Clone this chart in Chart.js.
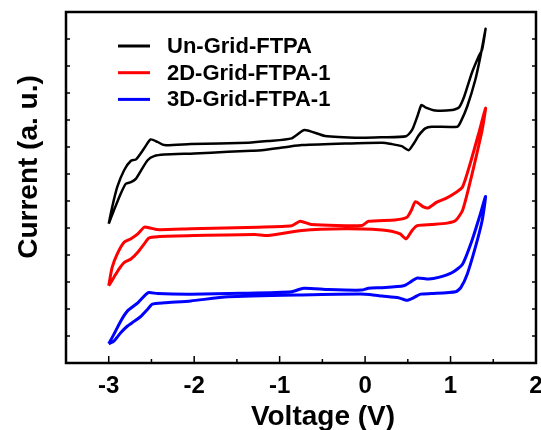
<!DOCTYPE html>
<html>
<head>
<meta charset="utf-8">
<script src="https://cdn.jsdelivr.net/npm/chart.js@4/dist/chart.umd.min.js"></script>
<style>
  body { margin: 0; background: #fff; }
</style>
</head>
<body>
<canvas id="cv" width="541" height="430"></canvas>
<script>
// each loop: forward scan (upper) then reverse scan (lower) back to -3 V
const seriesNames = ['Un-Grid-FTPA', '2D-Grid-FTPA-1', '3D-Grid-FTPA-1'];
const seriesColors = ['#000000', '#ff0000', '#0000ff'];

const unGridV = [-3.00,-2.96,-2.90,-2.82,-2.74,-2.68,-2.585,-2.51,-2.43,-2.35,-2.04,-1.37,-1.135,-0.86,-0.71,-0.47,-0.04,0.20,0.48,0.55,0.61,0.66,0.705,0.82,1.02,1.10,1.16,1.25,1.33,1.37,1.41,
  1.35,1.29,1.195,1.12,1.08,0.78,0.705,0.63,0.57,0.51,0.43,0.31,0.20,-0.235,-0.74,-0.90,-1.21,-1.33,-1.605,-2.00,-2.35,-2.47,-2.545,-2.62,-2.68,-2.74,-2.80,-2.86,-2.94,-3.00];
const unGridI = [5.16,5.77,6.52,7.14,7.49,7.54,7.95,8.28,8.19,8.07,8.11,8.16,8.22,8.32,8.63,8.41,8.34,8.36,8.40,8.63,9.12,9.56,9.47,9.35,9.37,9.47,9.87,10.75,11.36,11.61,12.38,
  11.36,10.49,9.50,8.94,8.75,8.75,8.69,8.44,8.13,7.88,8.03,8.11,8.16,8.13,8.07,8.01,7.88,7.86,7.82,7.76,7.72,7.66,7.51,7.14,6.83,6.70,6.64,6.27,5.65,5.16];

const grid2dV = [-3.00,-2.96,-2.90,-2.82,-2.74,-2.66,-2.585,-2.53,-2.43,-2.04,-1.25,-0.86,-0.76,-0.63,-0.04,0.04,0.35,0.49,0.54,0.59,0.69,0.745,0.84,0.94,1.04,1.14,1.23,1.33,1.41,
  1.37,1.29,1.215,1.14,1.06,0.96,0.78,0.61,0.55,0.48,0.41,0.31,0.20,-0.235,-0.74,-1.135,-1.29,-2.00,-2.43,-2.53,-2.585,-2.66,-2.74,-2.82,-2.88,-2.94,-3.00];
const grid2dI = [2.86,3.54,4.04,4.47,4.60,4.78,5.03,5.01,4.94,4.97,5.03,5.08,5.25,5.13,5.09,5.25,5.30,5.40,5.65,5.97,5.77,5.75,5.96,6.09,6.27,6.52,7.39,8.51,9.44,
  8.63,7.51,6.52,5.65,5.28,5.18,5.13,5.09,4.91,4.60,4.78,4.88,4.93,4.97,4.91,4.72,4.76,4.72,4.68,4.63,4.41,4.10,3.85,3.72,3.48,3.17,2.86];

const grid3dV = [-3.00,-2.94,-2.86,-2.78,-2.66,-2.585,-2.53,-2.43,-2.04,-1.45,-0.86,-0.72,-0.43,-0.04,0.04,0.20,0.45,0.55,0.61,0.745,0.86,1.02,1.14,1.25,1.35,1.41,
  1.37,1.29,1.195,1.12,1.06,0.78,0.65,0.57,0.49,0.39,0.20,0.00,-0.74,-1.605,-2.04,-2.35,-2.49,-2.545,-2.62,-2.70,-2.78,-2.86,-2.94,-3.00];
const grid3dI = [0.71,1.06,1.55,1.93,2.23,2.48,2.61,2.57,2.55,2.58,2.64,2.77,2.72,2.70,2.77,2.79,2.86,3.04,3.15,3.11,3.17,3.35,3.66,4.53,5.53,6.17,
  5.28,4.28,3.29,2.79,2.64,2.57,2.55,2.42,2.32,2.42,2.48,2.55,2.52,2.45,2.30,2.23,2.18,1.99,1.74,1.55,1.37,1.12,0.81,0.71];

const xTicks = [-3, -2, -1, 0, 1, 2];
const xMinorTicks = [-2.5, -1.5, -0.5, 0.5, 1.5];
const yTicks = [1, 2, 3, 4, 5, 6, 7, 8, 9, 10, 11, 12];

const FONT = '"Liberation Sans", Arial, sans-serif';

function pts(vs, is) {
  return vs.map((v, k) => ({ x: v, y: is[k] }));
}

const allV = [unGridV, grid2dV, grid3dV];
const allI = [unGridI, grid2dI, grid3dI];

const datasets = seriesNames.map((name, k) => ({
  label: name,
  data: pts(allV[k], allI[k]),
  showLine: true,
  borderColor: seriesColors[k],
  borderWidth: k === 0 ? 2.5 : 3,
  pointRadius: 0,
  tension: 0.2,
  fill: false
}));

// frame, inward ticks, axis titles, legend inside the plot
const decor = {
  id: 'decor',
  afterDraw(chart) {
    const { ctx, chartArea: a, scales: { x, y } } = chart;
    ctx.save();
    ctx.strokeStyle = '#000';
    ctx.lineWidth = 1.5;
    ctx.beginPath();
    xTicks.forEach(v => {
      const px = x.getPixelForValue(v);
      ctx.moveTo(px, a.bottom); ctx.lineTo(px, a.bottom - 7);
    });
    xMinorTicks.forEach(v => {
      const px = x.getPixelForValue(v);
      ctx.moveTo(px, a.bottom); ctx.lineTo(px, a.bottom - 4);
    });
    yTicks.forEach(v => {
      const py = y.getPixelForValue(v);
      ctx.moveTo(a.left, py); ctx.lineTo(a.left + 4, py);
      ctx.moveTo(a.right, py); ctx.lineTo(a.right - 4, py);
    });
    ctx.stroke();

    ctx.lineWidth = 2.5;
    ctx.strokeRect(a.left, a.top, a.right - a.left, a.bottom - a.top);

    // axis titles
    ctx.fillStyle = '#000';
    ctx.font = 'bold 28px ' + FONT;
    ctx.textAlign = 'center';
    ctx.textBaseline = 'alphabetic';
    ctx.fillText('Voltage (V)', a.left + 257, 425);
    ctx.save();
    ctx.translate(37, a.top + 155);
    ctx.rotate(-Math.PI / 2);
    ctx.fillText('Current (a. u.)', 0, 0);
    ctx.restore();

    // legend
    ctx.font = 'bold 22px ' + FONT;
    ctx.textAlign = 'left';
    ctx.textBaseline = 'middle';
    chart.data.datasets.forEach((ds, k) => {
      const ry = a.top + 34 + k * 26.7;
      ctx.strokeStyle = ds.borderColor;
      ctx.lineWidth = 3;
      ctx.beginPath();
      ctx.moveTo(a.left + 52, ry); ctx.lineTo(a.left + 84, ry);
      ctx.stroke();
      ctx.fillStyle = '#000';
      ctx.fillText(ds.label, a.left + 101, ry + 1);
    });
    ctx.restore();
  }
};

new Chart(document.getElementById('cv'), {
  type: 'scatter',
  data: { datasets },
  options: {
    responsive: false,
    animation: false,
    layout: { padding: { top: 12, right: 5, left: 0, bottom: 0 } },
    plugins: { legend: { display: false }, tooltip: { enabled: false } },
    scales: {
      x: {
        type: 'linear',
        min: -3.5,
        max: 2,
        afterBuildTicks: s => { s.ticks = xTicks.map(v => ({ value: v })); },
        afterFit: s => { s.height = 67; s.paddingLeft = 0; s.paddingRight = 0; },
        grid: { display: false, drawTicks: false },
        border: { display: false },
        ticks: {
          color: '#000',
          padding: 9,
          maxRotation: 0,
          font: { family: FONT, size: 24, weight: 'bold' }
        }
      },
      y: {
        type: 'linear',
        min: 0,
        max: 13,
        afterFit: s => { s.width = 66; },
        grid: { display: false, drawTicks: false },
        border: { display: false },
        ticks: { display: false }
      }
    }
  },
  plugins: [decor]
});
</script>
</body>
</html>
